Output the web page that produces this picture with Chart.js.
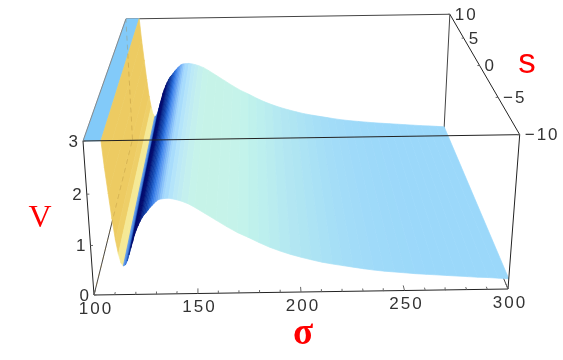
<!DOCTYPE html>
<html><head><meta charset="utf-8">
<style>html,body{margin:0;padding:0;background:#fff}canvas{display:block}</style>
<script src="https://cdn.jsdelivr.net/npm/chart.js@4"></script>
</head><body><canvas id="c" width="563" height="360"></canvas>
<script>
// Data
const sigmaValues = [100,108.2,109,110,111,112,113,114,115,116,117,118,119,120,121,122,123,124,125,126,127,128,129,130,131,132,133,134,135,136,138,140,142,144,147,150,155,160,165,170,175,180,185,190,195,200,205,210,215,220,225,230,235,240,245,250,255,260,265,270,275,280,285,290,295,300];
const potentialValues = [3,3,2.5,2.0,1.52,1.1,0.82,0.64,0.58,0.6,0.68,0.8,0.93,1.05,1.18,1.28,1.37,1.45,1.52,1.58,1.62,1.67,1.72,1.76,1.8,1.84,1.87,1.885,1.89,1.895,1.9,1.885,1.865,1.84,1.79,1.72,1.59,1.46,1.33,1.21,1.115,1.01,0.915,0.835,0.765,0.705,0.65,0.6,0.56,0.525,0.49,0.455,0.425,0.4,0.38,0.36,0.34,0.325,0.31,0.295,0.28,0.265,0.25,0.24,0.225,0.21];
const stripColors = ['#82caf9','#edcb62','#edcb62','#edcb62','#edcb62','#eecf68','#f5e996','#f5e996','#5a96ea','#3a74d8','#2050b0','#0c2a8c','#000a6e','#000a6e','#000a6e','#000a6e','#000a6e','#041c80','#0a2c90','#0e3aa0','#1448b0','#1c5ac4','#2a6cd8','#3c80e6','#5092ee','#649ff2','#78b4f6','#8cc4fa','#a0d4fc','#a8dcfc','#b4e4fa','#bce9f6','#c0ecf2','#c4f0ee','#c6f3ea','#c6f3e8','#c6f3e8','#c6f3e9','#c5f3ea','#c3f3eb','#bff1ec','#bcefee','#b9ecef','#b5e9f1','#b2e6f2','#afe5f2','#ace3f4','#a9e1f5','#a6dff6','#a4ddf7','#a2dcf8','#a1dbf8','#9fdaf9','#9edaf9','#9dd9f9','#9cd9f9','#9cd8fa','#9bd8fa','#9bd8fa','#9bd8fa','#9bd8fa','#9bd8fa','#9bd8fa','#9bd8fa','#9bd8fa'];
const sRange = [-10, 10];
const sigmaTicks = [100,150,200,250,300];
const sigmaMinorTicks = [110,120,130,140,160,170,180,190,210,220,230,240,260,270,280,290];
const vTicks = [0,1,2,3];
const sTicks = [-10,-5,0,5,10];

// Perspective camera: where the box corners land
const cam = {O:[94,295],U:[508,289],S:[132.5,139.5],Z:[83,141],wu:1,ws:1.33,wz:0.948};
function project(sig,s,v){
  const u=(sig-100)/200,t=(s+10)/20,z=v/3;
  const w=1+(cam.wu-1)*u+(cam.ws-1)*t+(cam.wz-1)*z;
  const f=i=>(cam.O[i]+u*(cam.wu*cam.U[i]-cam.O[i])+t*(cam.ws*cam.S[i]-cam.O[i])+z*(cam.wz*cam.Z[i]-cam.O[i]))/w;
  return {x:f(0),y:f(1)};
}
const [sN,sF]=sRange;
const datasets=[];let seq=0;
function addLine(points,color,width,dash){
  datasets.push({type:'scatter',showLine:true,data:points,borderColor:color,borderWidth:width,borderDash:dash||[],pointRadius:0,fill:false,tension:0,clip:false,order:-(seq++),spanGaps:false});
}
const gap={x:NaN,y:NaN};
const edge=(a,b)=>[project(...a),project(...b),gap];
// back edges, behind the surface
addLine([
  ...edge([100,sN,0],[100,sF,0]),
  ...edge([300,sN,0],[300,sF,0]),
  ...edge([300,sF,0],[300,sF,3]),
  ...edge([100,sF,3],[300,sF,3])
],'#444',1);
// surface strips
for(let i=0;i<sigmaValues.length-1;i++){
  const a=sigmaValues[i],b=sigmaValues[i+1],va=potentialValues[i],vb=potentialValues[i+1];
  const col=stripColors[i];
  datasets.push({type:'scatter',showLine:true,
    data:[project(a,sN,va),project(a,sF,va),project(b,sF,vb),project(b,sN,vb),project(a,sN,va)],
    borderColor:col,borderWidth:0.7,backgroundColor:col,fill:'shape',pointRadius:0,tension:0,clip:false,order:-(seq++)});
}
// faint mesh showing through the gold face
addLine([...edge([100,sF,0],[100,sF,3])],'rgba(170,130,50,0.35)',1,[5,4]);
addLine([...edge([100,sN,0],[100,sF,0])],'rgba(170,130,50,0.3)',1,[5,4]);
// front edges
addLine([
  ...edge([100,sN,0],[300,sN,0]),
  ...edge([100,sN,0],[100,sN,3]),
  ...edge([100,sN,3],[300,sN,3]),
  ...edge([300,sN,0],[300,sN,3]),
  ...edge([300,sN,3],[300,sF,3])
],'#222',1);
addLine([...edge([100,sN,3],[100,sF,3])],'#888',1);
// ticks
const tickSeg=[];
sigmaTicks.forEach(t=>tickSeg.push(...edge([t,sN,0],[t,sN+0.5,0])));
sigmaMinorTicks.forEach(t=>tickSeg.push(...edge([t,sN,0],[t,sN+0.25,0])));
vTicks.forEach(t=>tickSeg.push(...edge([100,sN,t],[100+1.2,sN,t])));
sTicks.forEach(t=>tickSeg.push(...edge([300,t,3],[300-1.2,t,3])));
addLine(tickSeg,'#666',1);

const fmt=t=>String(t).replace('-','\u2212');
const labelPlugin={id:'labels',afterDraw(chart){
  const {ctx,scales:{x,y}}=chart;
  const px=p=>[x.getPixelForValue(p.x),y.getPixelForValue(p.y)];
  ctx.save();
  ctx.fillStyle='#333';
  ctx.font='17px "Liberation Sans"';
  ctx.letterSpacing='2px';
  ctx.textBaseline='middle';
  ctx.textAlign='center';
  sigmaTicks.forEach(t=>{const [a,b]=px(project(t,sN,0));ctx.fillText(String(t),a+2,b+14);});
  ctx.textAlign='right';
  ctx.letterSpacing='0px';
  vTicks.forEach(t=>{const [a,b]=px(project(100,sN,t));ctx.fillText(String(t),a-5,b+1);});
  ctx.textAlign='left';
  ctx.letterSpacing='2px';
  sTicks.forEach(t=>{const [a,b]=px(project(300,t,3));ctx.fillText(fmt(t),a+5,b+1);});
  ctx.letterSpacing='0px';
  ctx.fillStyle='#ff0000';
  ctx.textAlign='center';
  ctx.font='32px "Liberation Serif"';
  ctx.fillText('V',40,219);
  ctx.font='bold 37px "Liberation Serif"';
  ctx.fillText('\u03c3',303,334);
  ctx.font='35px "Liberation Sans"';
  ctx.fillText('s',527,63);
  ctx.restore();
}};
new Chart(document.getElementById('c'),{
  type:'scatter',
  data:{datasets},
  options:{responsive:false,animation:false,layout:{padding:0},
    plugins:{legend:{display:false},tooltip:{enabled:false}},
    scales:{x:{type:'linear',min:0,max:563,display:false},y:{type:'linear',min:0,max:360,reverse:true,display:false}}},
  plugins:[labelPlugin]
});
</script></body></html>
